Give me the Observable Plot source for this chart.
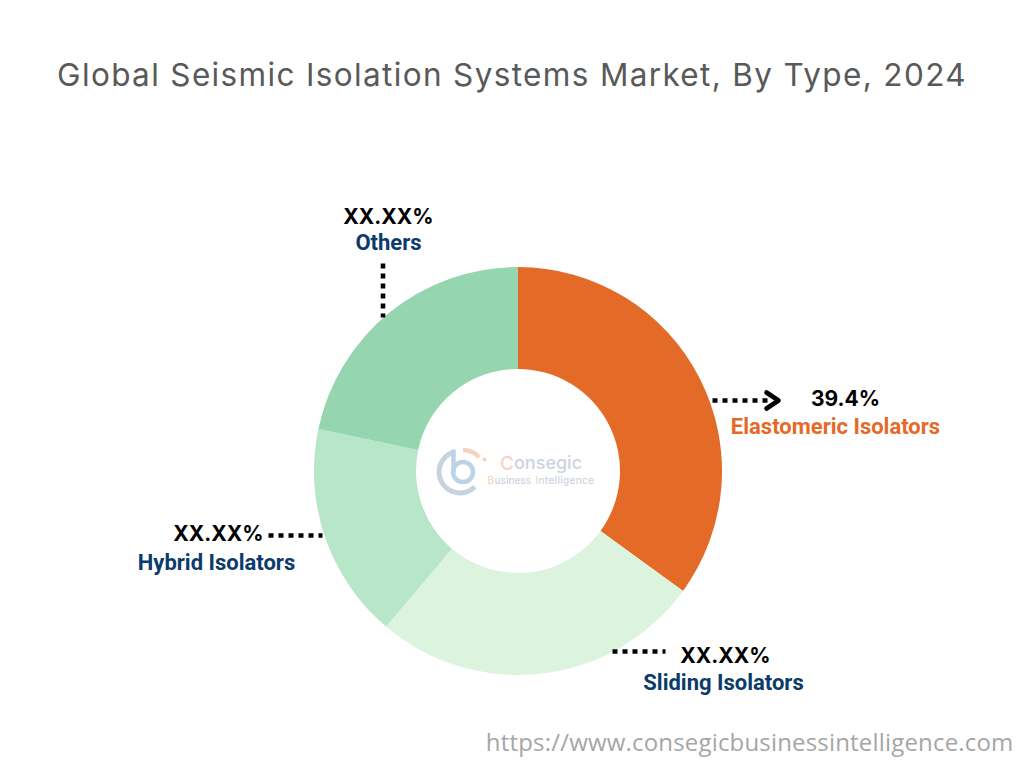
<!DOCTYPE html>
<html>
<head>
<meta charset="utf-8">
<script src="https://cdn.jsdelivr.net/npm/d3@7"></script>
<script src="https://cdn.jsdelivr.net/npm/@observablehq/plot@0.6"></script>
<style>
html,body{margin:0;padding:0;background:#fff;overflow:hidden}
#title{height:120px;box-sizing:border-box;padding-top:55px;text-align:center;font:400 31.5px/40px Inter,sans-serif;color:#595959;letter-spacing:1.35px;white-space:nowrap}
svg{display:block}
.url-text{letter-spacing:0.18px}
.logo-wide{letter-spacing:0.3px}
</style>
</head>
<body>
<div id="title">Global Seismic Isolation Systems Market, By Type, 2024</div>
<div id="chart"></div>
<script>
const categories = ["Elastomeric Isolators", "Sliding Isolators", "Hybrid Isolators", "Others"];
const shares = [35.0, 26.2, 17.1, 21.7];
const valueLabels = ["39.4%", "XX.XX%", "XX.XX%", "XX.XX%"];
const sliceColors = ["#e46a27", "#dcf3de", "#b7e6c8", "#95d6b0"];
const nameColors = ["#e56a27", "#0b3b6b", "#0b3b6b", "#0b3b6b"];

const slices = categories.map((type, i) => ({type, share: shares[i]}));

// Annotation layout, in page pixels
const valueAt = [[845, 399], [725, 656], [218, 534], [388, 217]];
const nameAt = [[835, 426], [723, 682], [216, 562], [388, 242]];
const leaders = [
  [[712, 400], [770, 400]],
  [[612, 651], [665, 651]],
  [[268, 535], [322, 535]],
  [[382.5, 263], [382.5, 317]]
];
const chevron = [[766, 392], [778, 400], [766, 408]];

const center = {x: 518, y: 471};
const radii = {outer: 204, inner: 102};

// Donut: a Plot mark anchored on the chart scales, slices from d3.pie over the data
function donut(data, {value, fill, x, y, outer, inner}) {
  return Plot.dot(data, {
    x: () => x, y: () => y, fill,
    render(index, scales, values) {
      const pie = d3.pie().sort(null).value(value)(data);
      const arc = d3.arc().innerRadius(inner).outerRadius(outer);
      const g = d3.create("svg:g").attr("aria-label", "donut");
      index.forEach((i) => {
        g.append("path")
          .attr("transform", `translate(${values.x[i]},${values.y[i]})`)
          .attr("d", arc(pie[i]))
          .attr("fill", values.fill[i]);
      });
      return g.node();
    }
  });
}

// Logo pieces
function logoArc(cx, cy, r, a0, a1, color, w) {
  return Plot.dot([0], {
    x: () => cx, y: () => cy,
    render(index, scales, values) {
      const arc = d3.arc().innerRadius(r - w / 2).outerRadius(r + w / 2).startAngle(a0).endAngle(a1);
      return d3.create("svg:path")
        .attr("transform", `translate(${values.x[0]},${values.y[0]})`)
        .attr("d", arc()).attr("fill", color).node();
    }
  });
}
const deg = Math.PI / 180;

const textBase = {textAnchor: "middle", lineAnchor: "middle"};
const logoWord = {fontFamily: "Inter", fontWeight: 500, textAnchor: "start", lineAnchor: "middle"};
const logoPale = "#ccd4e0", logoWarm = "#f6d3be";
const word = (s, x, y, fill, fontSize, extra = {}) =>
  Plot.text([s], {x: () => x, y: () => y, text: (d) => d, fill, fontSize, ...logoWord, ...extra});

const plot = Plot.plot({
  width: 1024,
  height: 648,
  margin: 0,
  x: {domain: [0, 1024], range: [0, 1024], axis: null},
  y: {domain: [120, 768], range: [0, 648], axis: null},
  color: {domain: categories, range: sliceColors},
  marks: [
    donut(slices, {value: (d) => d.share, fill: "type", x: center.x, y: center.y, outer: radii.outer, inner: radii.inner}),

    // Watermark logo
    logoArc(460, 472, 21, -18 * deg, -225 * deg, "#c9d3e0", 5),
    logoArc(463, 472, 10, 0, 360 * deg, "#bcd3e6", 4.5),
    Plot.line([[453, 449], [453, 472]], {x: "0", y: "1", stroke: "#bcd3e6", strokeWidth: 4.5, strokeLinecap: "butt"}),
    logoArc(463, 472, 22, 0, 48 * deg, logoWarm, 4.5),
    Plot.dot([[484, 459]], {x: "0", y: "1", r: 2, fill: logoWarm}),
    word("C", 499.5, 463, logoWarm, 19),
    word("onsegic", 513.5, 463, logoPale, 18),
    word("B", 487, 480, logoWarm, 10),
    word("usiness", 494, 480, logoPale, 10),
    word("I", 535, 480, logoWarm, 10),
    word("ntelligence", 538, 480, logoPale, 10, {className: "logo-wide"}),

    // Leaders
    ...leaders.map((seg) => Plot.line(seg, {x: "0", y: "1", stroke: "#000", strokeWidth: 4.6, strokeDasharray: "5,5", strokeLinecap: "butt"})),
    Plot.line(chevron, {x: "0", y: "1", stroke: "#000", strokeWidth: 4.6, strokeLinejoin: "round", strokeLinecap: "round"}),

    // Labels
    Plot.text(valueLabels, {
      x: (d, i) => valueAt[i][0], y: (d, i) => valueAt[i][1], text: (d) => d,
      fill: "#000", fontSize: 21, fontWeight: 700, fontFamily: "Inter", ...textBase
    }),
    Plot.text(categories, {
      x: (d, i) => nameAt[i][0], y: (d, i) => nameAt[i][1], text: (d) => d,
      fill: (d, i) => nameColors[i], fontSize: 22, fontWeight: 700, fontFamily: "Roboto", ...textBase
    }),

    // Source address
    Plot.text(["https://www.consegicbusinessintelligence.com"], {
      x: () => 1013, y: () => 743, text: (d) => d, className: "url-text",
      fill: "#a6a6a6", fontSize: 24, fontFamily: "Open Sans", textAnchor: "end", lineAnchor: "middle"
    })
  ]
});
document.getElementById("chart").append(plot);
</script>
</body>
</html>
